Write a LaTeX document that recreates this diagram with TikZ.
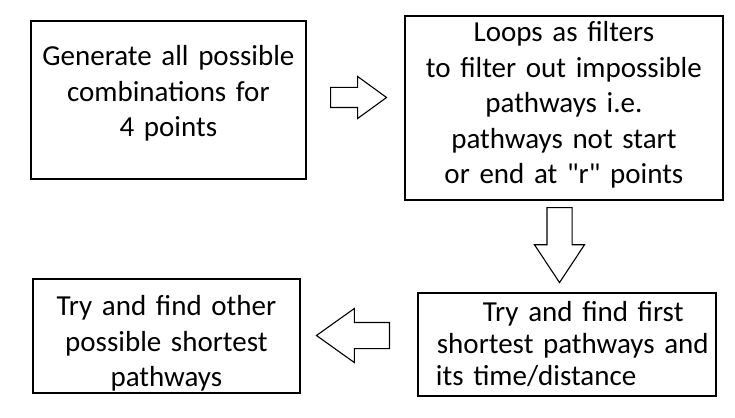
\documentclass[tikz,border=0pt]{standalone}
\usepackage{fontspec}
\setmainfont{Carlito}[Ligatures=TeXOff]
\usepackage{tikz}
\usetikzlibrary{shapes.arrows}

\begin{document}
\begin{tikzpicture}[x=1pt,y=-1pt,
    stepbox/.style={draw, line width=1.8pt, anchor=north west, inner sep=0pt,
        align=center, font=\fontsize{29}{35.5}\selectfont},
    bigarrow/.style={draw, single arrow, anchor=tail, line width=1.1pt, inner sep=0pt}]
\useasboundingbox (0,0) rectangle (735,417);

\node[stepbox, text width=275pt, text height=45pt, text depth=113pt] (p_gen) at (30,20)
    {Generate all possible\\ combinations for\\ 4 points};
\node[stepbox, text width=318pt, text height=26pt, text depth=158pt] (p_filter) at (404,15)
    {Loops as filters\\ to filter out impossible\\ pathways i.e.\\ pathways not start\\ or end at "r" points};
\node[stepbox, align=left, font=\fontsize{29}{32}\selectfont,
      text width=298pt, text height=29pt, text depth=74pt] (p_first) at (417,292)
    {\hspace*{65pt}Try and find first\\ \hspace*{19pt}shortest pathways and\\ \hspace*{18pt}its time/distance};
\node[stepbox, text width=267pt, text height=37pt, text depth=77pt] (p_other) at (32,278)
    {Try and find other\\ possible shortest\\ pathways};

\node[bigarrow, text height=9.5pt, text depth=9.5pt, minimum height=56pt, minimum width=41pt,
      single arrow head extend=11pt, single arrow tip angle=72] (go_1) at (330,97.5) {};
\node[bigarrow, rotate=-90, text height=12pt, text depth=12pt, minimum height=75pt, minimum width=49pt,
      single arrow head extend=12.5pt, single arrow tip angle=67] (go_2) at (559.5,207) {};
\node[bigarrow, rotate=180, text height=12.5pt, text depth=12.5pt, minimum height=73pt, minimum width=53pt,
      single arrow head extend=14pt, single arrow tip angle=71] (go_3) at (390,335.5) {};
\end{tikzpicture}
\end{document}
